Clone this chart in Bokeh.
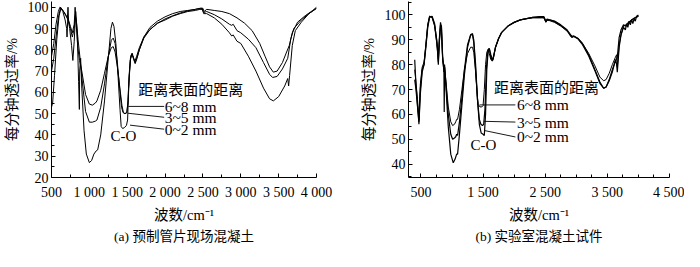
from bokeh.plotting import figure
from bokeh.layouts import row
from bokeh.models import FixedTicker, Range1d, Title
from bokeh.core.properties import value
from bokeh.embed import file_html
from bokeh.resources import INLINE

SERIF = "Liberation Serif, Noto Sans CJK SC"

# ---------------- data: panel (a) ----------------
a02_x = [500, 515, 540, 570, 600, 625, 650, 680, 700, 705, 715, 740, 765, 782, 800, 820, 840, 858, 868, 872, 885, 900, 930, 960, 1000, 1030, 1060, 1090, 1110, 1150, 1200, 1250, 1285, 1305, 1325, 1350, 1380, 1405, 1420, 1440, 1465, 1490, 1505, 1520, 1540, 1560, 1580, 1600, 1625, 1660, 1720, 1800, 1900, 2000, 2100, 2200, 2300, 2400, 2460, 2490, 2510, 2550, 2650, 2750, 2850, 2880, 2900, 2950, 3000, 3100, 3200, 3300, 3380, 3430, 3500, 3580, 3620, 3632, 3645, 3680, 3720, 3800, 3900, 4000]
a02_y = [53, 55, 68, 85, 96, 99.5, 98, 94, 90, 86, 95, 90, 82, 75, 84, 98, 88, 65, 52, 70, 76, 62, 42, 31, 27, 28, 31, 32.5, 33, 40, 56, 76, 90, 93, 91, 83, 67, 52, 44, 43, 43.5, 44.5, 47, 62, 75, 78, 76.5, 74.5, 77, 81, 86, 89.5, 92.5, 94.5, 96, 97.3, 98.3, 99, 99.5, 99.5, 97, 97, 95, 92, 88, 86.5, 87, 84, 83, 77, 70, 62, 57, 56, 58, 63, 66.5, 63, 68, 82, 89, 93, 97, 99.5]

a35_x = [500, 530, 560, 590, 620, 650, 690, 720, 750, 775, 800, 815, 830, 850, 880, 910, 950, 1000, 1040, 1080, 1100, 1150, 1200, 1250, 1290, 1315, 1340, 1370, 1400, 1425, 1445, 1470, 1495, 1510, 1525, 1545, 1565, 1585, 1605, 1630, 1660, 1720, 1800, 1900, 2000, 2100, 2200, 2300, 2400, 2460, 2490, 2510, 2550, 2650, 2750, 2850, 2880, 2900, 2950, 3000, 3100, 3200, 3300, 3380, 3420, 3480, 3550, 3620, 3660, 3700, 3800, 3900, 4000]
a35_y = [70, 76, 86, 95, 100, 98.5, 96, 94, 90, 86, 90, 96, 93, 85, 75, 64, 51, 46, 46, 46.5, 47, 53, 64, 77, 84.5, 85.5, 83, 74, 62, 53, 50.5, 50, 50.5, 56, 68, 77, 78.5, 76, 74, 76.5, 80, 85.5, 89.5, 92.5, 94, 95.8, 97, 98, 98.5, 99, 99, 97.5, 98, 96.5, 94.5, 92, 91.5, 92, 89, 88, 85, 81, 74, 68.5, 67, 67.5, 71, 76, 85, 90, 94, 97, 99.5]

a68_x = [500, 530, 560, 590, 610, 640, 680, 710, 718, 725, 750, 775, 800, 812, 825, 845, 870, 900, 950, 1000, 1040, 1080, 1100, 1150, 1200, 1250, 1290, 1315, 1340, 1370, 1400, 1430, 1450, 1470, 1495, 1510, 1525, 1545, 1565, 1585, 1605, 1630, 1660, 1720, 1800, 1900, 2000, 2100, 2200, 2300, 2400, 2470, 2500, 2515, 2550, 2650, 2750, 2850, 2950, 3050, 3150, 3250, 3320, 3380, 3430, 3480, 3550, 3600, 3640, 3680, 3750, 3850, 3950, 4000]
a68_y = [77, 83, 92, 98, 100, 99, 97, 95, 100, 94, 91, 88, 92, 100, 93, 82, 75, 70, 59, 54.5, 54, 55, 56, 61, 69, 77, 81, 81.5, 79, 72, 63, 54, 50.5, 50, 50.5, 55, 67, 76, 78, 75.5, 73.5, 76, 80, 86, 90.5, 93.5, 95.5, 97, 98, 98.5, 99, 99.5, 99.5, 98, 99, 98.5, 98, 97, 95, 92.5, 89, 83, 77, 72, 69.5, 70, 74, 78.5, 82, 88, 93, 96, 98.5, 100]

# ---------------- data: panel (b) ----------------
b02_x = [400, 420, 445, 468, 490, 520, 550, 580, 610, 640, 680, 720, 755, 770, 780, 795, 815, 830, 850, 870, 875, 880, 900, 940, 980, 1020, 1050, 1075, 1090, 1120, 1160, 1200, 1250, 1300, 1330, 1350, 1380, 1410, 1440, 1470, 1500, 1520, 1540, 1560, 1580, 1600, 1625, 1650, 1665, 1700, 1750, 1800, 1900, 2000, 2100, 2200, 2300, 2400, 2480, 2510, 2530, 2570, 2650, 2750, 2850, 2910, 2930, 2960, 3030, 3100, 3200, 3300, 3380, 3440, 3480, 3530, 3580, 3630, 3650, 3660, 3690, 3720, 3760, 3790, 3810, 3830, 3850, 3870, 3890, 3910, 3930, 3950, 3970, 4000]
b02_y = [82, 72, 64, 56, 68, 77, 80, 88, 96, 99.5, 99, 96, 90, 86, 81, 90, 97, 95, 82, 78, 61, 79, 72, 55, 44, 40.5, 42, 44, 44, 52, 64, 76, 87, 92, 92.5, 90, 80, 66, 56, 52.5, 52, 51.5, 60, 78, 85, 86.5, 84, 82, 83, 87, 90.5, 93, 95.5, 97, 98, 98.5, 99, 99.3, 99.3, 97.5, 98.3, 98, 97.5, 96, 94, 92, 91, 91.5, 90.5, 88.5, 84, 78, 73, 70.5, 71, 73.5, 77, 82, 80, 77, 87, 92, 95, 94, 96.5, 95, 97.5, 96, 98, 96.5, 98.5, 97.5, 99.5, 100]

b35_x = [400, 420, 445, 468, 490, 520, 550, 580, 610, 640, 680, 720, 755, 770, 780, 795, 815, 830, 850, 870, 880, 900, 940, 980, 1010, 1040, 1060, 1075, 1090, 1120, 1160, 1200, 1250, 1300, 1330, 1350, 1380, 1410, 1440, 1465, 1490, 1510, 1530, 1555, 1580, 1600, 1625, 1650, 1665, 1700, 1750, 1800, 1900, 2000, 2100, 2200, 2300, 2400, 2480, 2510, 2530, 2570, 2650, 2750, 2850, 2910, 2930, 2960, 3030, 3100, 3200, 3300, 3380, 3440, 3480, 3530, 3580, 3630, 3660, 3690, 3720, 3760, 3800, 3840, 3880, 3920, 3960, 4000]
b35_y = [74, 70, 63, 57, 70, 78, 80, 87, 95, 99, 99.5, 96.5, 89, 85, 80, 89, 96, 95.5, 83, 79, 80, 73, 60, 52, 50, 50.5, 51, 52, 51.5, 57, 67, 78, 88, 92, 92, 89, 78, 66, 58, 56, 55.5, 56, 62, 79, 86, 86.5, 83, 81.5, 82.5, 87, 90.5, 93, 95.5, 97, 98, 98.5, 99, 99, 99, 97.3, 98, 98, 97.3, 95.8, 93.8, 91.5, 91, 91.3, 90.3, 88, 83.5, 77.5, 72.5, 70.5, 71, 74, 78, 81.5, 83, 91, 94, 96, 95.5, 97, 97.5, 98.5, 99, 99.5]

b68_x = [400, 420, 445, 468, 490, 520, 550, 580, 610, 640, 680, 720, 755, 770, 780, 795, 815, 830, 850, 870, 880, 900, 940, 980, 1010, 1040, 1060, 1075, 1090, 1120, 1160, 1200, 1250, 1300, 1330, 1350, 1380, 1400, 1420, 1450, 1480, 1500, 1520, 1540, 1560, 1580, 1600, 1625, 1650, 1665, 1700, 1750, 1800, 1900, 2000, 2100, 2200, 2300, 2400, 2480, 2510, 2530, 2570, 2650, 2750, 2850, 2910, 2930, 2960, 3030, 3100, 3200, 3300, 3380, 3440, 3480, 3530, 3580, 3630, 3650, 3660, 3690, 3720, 3760, 3800, 3840, 3880, 3920, 3960, 4000]
b68_y = [78, 73, 66, 58, 72, 79, 81, 88, 96, 99.5, 99, 95.5, 88.5, 84, 82, 88, 95, 94, 82, 77, 79, 74, 63, 57, 55.5, 56, 57, 58, 58, 62, 70, 78, 84.5, 87, 87, 85, 77, 70, 64, 63, 63, 63.5, 70, 80, 85, 86, 84.5, 82, 81.5, 82.5, 87, 90.5, 93, 95.5, 97, 98, 98.5, 98.8, 98.8, 98.8, 97, 97.8, 97.7, 97, 95.5, 93.5, 92, 91.5, 91.5, 90.5, 88.5, 84.5, 79.5, 75, 73.5, 74, 76.5, 80, 83, 84, 79, 88, 92, 95.5, 96, 97, 98, 98.5, 99, 99.5]

# ---------------- ticks & labels ----------------
a_xticks = [500, 1000, 1500, 2000, 2500, 3000, 3500, 4000]
a_xminor = [750, 1250, 1750, 2250, 2750, 3250, 3750]
a_xlabels = ["500", "1 000", "1 500", "2 000", "2 500", "3 000", "3 500", "4 000"]
a_yticks = [20, 30, 40, 50, 60, 70, 80, 90, 100]
a_yminor = [25, 35, 45, 55, 65, 75, 85, 95]

b_xticks = [500, 1500, 2500, 3500, 4500]
b_xminor = [750, 1000, 1250, 1750, 2000, 2250, 2750, 3000, 3250, 3750, 4000, 4250]
b_xlabels = ["500", "1 500", "2 500", "3 500", "4 500"]
b_yticks = [40, 50, 60, 70, 80, 90, 100]
b_yminor = [35, 45, 55, 65, 75, 85, 95, 105]

legend_title = "距离表面的距离"
legend_names = ["6~8 mm", "3~5 mm", "0~2 mm"]

# annotation anchors (data units) for panel a
a_title_pos = (1645, 61.3)
a_name_x = 1995
a_name_y = [53.4, 48.3, 42.7]
a_lead_x0 = [1988, 1988, 1988]
a_lead_y0 = [53.4, 48.3, 42.7]
a_lead_x1 = [1515, 1510, 1537]
a_lead_y1 = [53.4, 50.2, 44.6]
a_co = (1450, 39.3)

# panel b
b_title_pos = (1677, 70.6)
b_name_x = 2045
b_name_y = [63.8, 56.9, 50.9]
b_lead_x0 = [2020, 2020, 2020]
b_lead_y0 = [63.8, 56.9, 50.9]
b_lead_x1 = [1443, 1511, 1521]
b_lead_y1 = [63.8, 57.2, 53.5]
b_co = (1505, 47.6)


def make_panel(width, border_left, border_right, xr, yr, xticks, xminor, xlabels,
               yticks, yminor, caption):
    p = figure(width=width, height=244, output_backend="svg", toolbar_location=None,
               x_range=Range1d(*xr), y_range=Range1d(*yr),
               min_border_left=border_left, min_border_right=border_right,
               min_border_top=1, min_border_bottom=62)
    p.outline_line_color = None
    p.grid.visible = False
    p.background_fill_color = "white"
    p.border_fill_color = "white"
    for ax in (p.xaxis[0], p.yaxis[0]):
        ax.axis_line_color = "black"
        ax.axis_line_width = 1
        ax.major_tick_line_color = "black"
        ax.minor_tick_line_color = "black"
        ax.major_tick_in = 4
        ax.major_tick_out = 0
        ax.minor_tick_in = 3
        ax.minor_tick_out = 0
        ax.major_label_text_font = SERIF
        ax.major_label_text_font_size = "14px"
        ax.major_label_text_color = "black"
        ax.axis_label_text_font = SERIF
        ax.axis_label_text_font_size = "14.5px"
        ax.axis_label_text_font_style = "normal"
        ax.axis_label_text_color = "black"
    p.xaxis[0].ticker = FixedTicker(ticks=xticks, minor_ticks=xminor)
    p.xaxis[0].major_label_overrides = {t: s for t, s in zip(xticks, xlabels)}
    p.xaxis[0].major_label_standoff = 7
    p.xaxis[0].axis_label = "波数/cm⁻¹"
    p.xaxis[0].axis_label_standoff = 4
    p.yaxis[0].ticker = FixedTicker(ticks=yticks, minor_ticks=yminor)
    p.yaxis[0].major_label_standoff = 3
    p.yaxis[0].axis_label = "每分钟透过率/%"
    p.yaxis[0].axis_label_standoff = 5
    t = Title(text=caption, align="center", text_font=SERIF, text_font_size="13.5px",
              text_font_style="normal", text_color="black", standoff=2)
    p.add_layout(t, "below")
    return p


def annotate(p, title_pos, name_x, name_y, lx0, ly0, lx1, ly1, co):
    p.segment(x0=lx0, y0=ly0, x1=lx1, y1=ly1, line_color="black", line_width=0.9)
    p.text(x=[title_pos[0]], y=[title_pos[1]], text=[legend_title],
           text_font=value(SERIF), text_font_size=value("15px"),
           text_align="left", text_baseline="middle", text_color="black")
    p.text(x=[name_x] * 3, y=name_y, text=legend_names,
           text_font=value(SERIF), text_font_size=value("15.5px"),
           text_align="left", text_baseline="middle", text_color="black")
    p.text(x=[co[0]], y=[co[1]], text=["C-O"],
           text_font=value(SERIF), text_font_size=value("15px"),
           text_align="center", text_baseline="middle", text_color="black")


pa = make_panel(342, 46, 26, (500, 4000), (20, 102.7), a_xticks, a_xminor, a_xlabels,
                a_yticks, a_yminor, "(a) 预制管片现场混凝土")
pa.line(a02_x, a02_y, line_color="black", line_width=1)
pa.line(a35_x, a35_y, line_color="black", line_width=1)
pa.line(a68_x, a68_y, line_color="black", line_width=1)
annotate(pa, a_title_pos, a_name_x, a_name_y, a_lead_x0, a_lead_y0, a_lead_x1, a_lead_y1, a_co)

pb = make_panel(342, 66, 15, (300, 4500), (34.6, 105.4), b_xticks, b_xminor, b_xlabels,
                b_yticks, b_yminor, "(b) 实验室混凝土试件")
pb.line(b02_x, b02_y, line_color="black", line_width=1.2)
pb.line(b35_x, b35_y, line_color="black", line_width=1.2)
pb.line(b68_x, b68_y, line_color="black", line_width=1.0)
annotate(pb, b_title_pos, b_name_x, b_name_y, b_lead_x0, b_lead_y0, b_lead_x1, b_lead_y1, b_co)

layout = row(pa, pb)
open("out.html", "w").write(file_html(layout, INLINE))
